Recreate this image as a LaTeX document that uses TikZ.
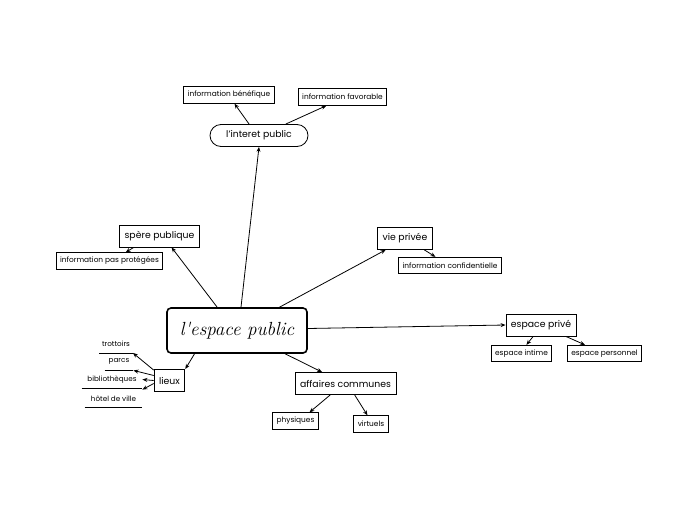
\documentclass[tikz,border=0pt]{standalone}
\usepackage{fontspec}
\setmainfont{Poppins}
\usepackage{tikz}
\usetikzlibrary{shapes, arrows.meta, positioning, calc}

\begin{document}
\begin{tikzpicture}[
  x=1pt, y=-1pt,
  >={Stealth[length=5pt, width=4pt]},
  every path/.style={line width=0.8pt},
  centre/.style={draw, line width=1.6pt, rounded corners=4pt, minimum width=140pt, minimum height=45pt, font=\fontspec{Latin Modern Roman}\itshape\fontsize{19}{20}\selectfont},
  theme/.style={draw, minimum height=22pt, inner xsep=5pt, font=\fontsize{9.3}{10}\selectfont},
  sousTheme/.style={draw, minimum height=16.5pt, inner xsep=4pt, font=\fontsize{7.4}{8}\selectfont},
  lieu/.style={minimum height=17pt, inner xsep=2pt, font=\fontsize{7.2}{8}\selectfont,
    append after command={(\tikzlastnode.south west) edge[-] (\tikzlastnode.south east)}}
]
  \useasboundingbox (0, 0) rectangle (697, 520);

  % Centre
  \node[centre] (centre) at (237, 330.5) {l'espace public};

  % Branches
  \node[theme, rounded corners=11pt, minimum width=98pt] (interet) at (259, 135.5) {l'interet public};
  \node[theme] (sphere) at (159.5, 236) {spère publique};
  \node[theme] (vie) at (405, 238.5) {vie privée};
  \node[theme] (prive) at (541, 325) {espace privé};
  \node[theme] (affaires) at (345.5, 383.5) {affaires communes};
  \node[theme] (lieux) at (169.5, 380.5) {lieux};

  % Sous-themes
  \node[sousTheme] (benef) at (229, 95) {information bénéfique};
  \node[sousTheme] (favor) at (342.5, 97) {information favorable};
  \node[sousTheme] (protege) at (109.5, 261) {information pas protégées};
  \node[sousTheme] (confid) at (450, 265.5) {information confidentielle};
  \node[sousTheme] (intime) at (521.5, 353.5) {espace intime};
  \node[sousTheme] (perso) at (604.5, 353.5) {espace personnel};
  \node[sousTheme] (physiq) at (295.5, 421) {physiques};
  \node[sousTheme] (virtuel) at (371, 424) {virtuels};

  % Lieux
  \node[lieu, minimum width=33pt] (trottoir) at (116, 344) {trottoirs};
  \node[lieu, minimum width=28pt] (parcs) at (119, 361.5) {parcs};
  \node[lieu, minimum width=60pt] (biblio) at (112, 379.5) {bibliothèques};
  \node[lieu, minimum width=57pt] (hotel) at (113.5, 398.5) {hôtel de ville};

  % Arrows
  \draw[->] (centre.north) ++(4, 0) -- (interet.south);
  \draw[->] ($(centre.north west)!0.36!(centre.north east)$) -- ($(sphere.south west)!0.65!(sphere.south east)$);
  \draw[->] ($(centre.north west)!0.8!(centre.north east)$) -- ($(vie.south west)!0.15!(vie.south east)$);
  \draw[->] ($(centre.east)+(0, -2)$) -- (prive.west);
  \draw[->] ($(centre.south west)!0.84!(centre.south east)$) -- ($(affaires.north west)!0.27!(affaires.north east)$);
  \draw[->] ($(centre.south west)!0.2!(centre.south east)$) -- (lieux.north east);

  \draw[->] ($(interet.north west)!0.4!(interet.north east)$) -- ($(benef.south west)!0.56!(benef.south east)$);
  \draw[->] ($(interet.north west)!0.77!(interet.north east)$) -- ($(favor.south west)!0.32!(favor.south east)$);
  \draw[->] ($(sphere.south west)!0.18!(sphere.south east)$) -- ($(protege.north west)!0.65!(protege.north east)$);
  \draw[->] ($(vie.south west)!0.85!(vie.south east)$) -- ($(confid.north west)!0.36!(confid.north east)$);
  \draw[->] ($(prive.south west)!0.39!(prive.south east)$) -- ($(intime.north west)!0.58!(intime.north east)$);
  \draw[->] ($(prive.south west)!0.85!(prive.south east)$) -- ($(perso.north west)!0.24!(perso.north east)$);
  \draw[->] ($(affaires.south west)!0.35!(affaires.south east)$) -- ($(physiq.north west)!0.8!(physiq.north east)$);
  \draw[->] ($(affaires.south west)!0.59!(affaires.south east)$) -- ($(virtuel.north west)!0.4!(virtuel.north east)$);

  \draw[->] ($(lieux.north west)+(0, 1)$) -- (trottoir.south east);
  \draw[->] ($(lieux.west)+(0, -5)$) -- (parcs.south east);
  \draw[->] (lieux.west) -- (biblio.east);
  \draw[->] ($(lieux.west)+(0, 3)$) -- (hotel.north east);

\end{tikzpicture}
\end{document}
